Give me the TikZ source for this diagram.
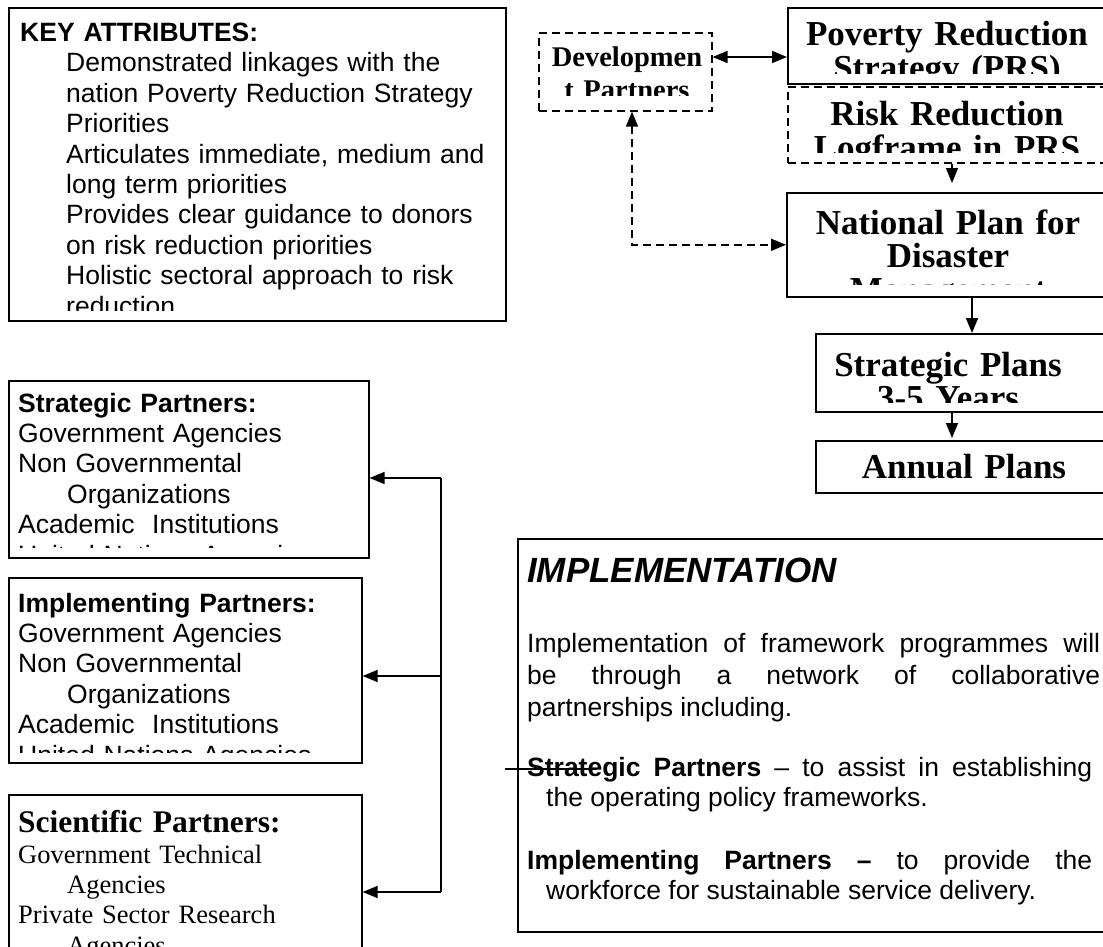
\documentclass[tikz,border=0pt]{standalone}
\usepackage{fontspec}
\setmainfont{Liberation Serif}
\setsansfont{Liberation Sans}
\usetikzlibrary{arrows.meta}
% text sizes (1pt = one unit of the drawing)
\newcommand\ArialBody{\sffamily\fontsize{26.5}{30.4}\selectfont}
\newcommand\LabelFont{\rmfamily\bfseries\fontsize{35}{33.5}\selectfont}
\newcommand\DevFont{\rmfamily\bfseries\fontsize{28.5}{33}\selectfont}
\newcommand\TimesBody{\rmfamily\fontsize{26.5}{30.4}\selectfont}
\newcommand\TimesHead{\rmfamily\bfseries\fontsize{31.5}{34}\selectfont}
\newcommand\JustPar{\tolerance=10000\hyphenpenalty=10000\exhyphenpenalty=10000
  \leftskip=0pt\rightskip=0pt\parfillskip=0pt plus 1fil\relax}
\begin{document}
\begin{tikzpicture}[x=1pt,y=-1pt,
  frame/.style={draw, line width=1.6pt, inner sep=0pt, anchor=north west},
  dframe/.style={frame, dash pattern=on 8pt off 5pt},
  txt/.style={inner sep=0pt, anchor=base west, align=left, text width=#1},
  txt/.default=560pt,
  jtxt/.style={inner sep=0pt, anchor=base west, align=justify, text width=#1},
  lab/.style={inner sep=0pt, anchor=base, align=center, text width=330pt, font=\LabelFont},
  tip/.style={-{Triangle[length=15pt,width=12pt]}},
  link/.style={line width=1.6pt, tip},
  dlink/.style={line width=1.6pt, dash pattern=on 8pt off 5pt,
    {Triangle[length=15pt,width=12pt]}-{Triangle[length=15pt,width=12pt]}},
]
\useasboundingbox (0,0) rectangle (1103,947);
\clip (0,0) rectangle (1103,947);
\fill[white] (0,0) rectangle (1103,947);

% ---------- key attributes ----------
\node[frame, minimum width=497pt, minimum height=313pt] (key) at (8,7) {};
\begin{scope}
  \clip (9,8) rectangle (504,310);
  \node[txt=480pt, font=\ArialBody] (keytext) at (20,41.5)
    {\textbf{KEY ATTRIBUTES:}\\
     \hspace*{46pt}Demonstrated linkages with the\\
     \hspace*{46pt}nation Poverty Reduction Strategy\\
     \hspace*{46pt}Priorities\\
     \hspace*{46pt}Articulates immediate, medium and\\
     \hspace*{46pt}long term priorities\\
     \hspace*{46pt}Provides clear guidance to donors\\
     \hspace*{46pt}on risk reduction priorities\\
     \hspace*{46pt}Holistic sectoral approach to risk\\
     \hspace*{46pt}reduction};
\end{scope}

% ---------- planning chain ----------
\node[dframe, minimum width=173pt, minimum height=78pt] (dev) at (538,32) {};
\node[frame, minimum width=330pt, minimum height=76pt] (prs) at (787,7) {};
\node[dframe, minimum width=330pt, minimum height=76pt] (risk) at (787,86) {};
\node[frame, minimum width=330pt, minimum height=104pt] (national) at (786,192) {};
\node[frame, minimum width=300pt, minimum height=78pt] (stratplan) at (815,333) {};
\node[frame, minimum width=300pt, minimum height=52pt] (annual) at (815,440) {};

\begin{scope}
  \clip (539,33) rectangle (710,96);
  \node[lab, font=\DevFont] (devtext) at (627,67) {Developmen\\t Partners};
\end{scope}
\begin{scope}
  \clip (788,8) rectangle (1103,74);
  \node[lab] (prstext) at (947,46) {Poverty Reduction\\Strategy (PRS)};
\end{scope}
\begin{scope}
  \clip (788,87) rectangle (1103,153);
  \node[lab] (risktext) at (947,126) {Risk Reduction\\Logframe in PRS};
\end{scope}
\begin{scope}
  \clip (787,193) rectangle (1103,284);
  \node[lab] (nationaltext) at (948,234) {National Plan for\\Disaster\\Management};
\end{scope}
\begin{scope}
  \clip (816,334) rectangle (1103,402);
  \node[lab] (stratplantext) at (948,376) {Strategic Plans\\3-5 Years};
\end{scope}
\node[lab] (annualtext) at (964,478) {Annual Plans};

\draw[line width=1.6pt, {Triangle[length=15pt,width=12pt]}-{Triangle[length=15pt,width=12pt]}]
  (dev.east |- 0,57) -- (prs.west |- 0,57);
\draw[link, shorten >=9pt] (952,0 |- risk.south) -- (952,0 |- national.north);
\draw[link] (972,0 |- national.south) -- (972,0 |- stratplan.north);
\draw[link, shorten >=2pt] (952,0 |- stratplan.south) -- (952,0 |- annual.north);
\draw[dlink] (632,0 |- dev.south) |- (national.west);

% ---------- partner boxes ----------
\node[frame, minimum width=360pt, minimum height=177pt] (strp) at (8,380) {};
\node[frame, minimum width=353pt, minimum height=185pt] (impp) at (8,577) {};
\node[frame, minimum width=353pt, minimum height=200pt] (scip) at (8,794) {};

\begin{scope}
  \clip (9,381) rectangle (367,547);
  \node[txt=340pt, font=\ArialBody] (strptext) at (18,412)
    {\textbf{Strategic Partners:}\\
     Government Agencies\\
     Non Governmental\\
     \hspace*{49pt}Organizations\\
     Academic\ \ Institutions\\
     United Nations Agencies};
\end{scope}
\begin{scope}
  \clip (9,578) rectangle (360,752);
  \node[txt=340pt, font=\ArialBody] (impptext) at (18,612)
    {\textbf{Implementing Partners:}\\
     Government Agencies\\
     Non Governmental\\
     \hspace*{49pt}Organizations\\
     Academic\ \ Institutions\\
     United Nations Agencies};
\end{scope}
\node[txt=340pt, font=\TimesHead] (sciphead) at (18,832) {Scientific Partners:};
\node[txt=340pt, font=\TimesBody] (sciptext) at (18,863)
  {Government Technical\\
   \hspace*{49pt}Agencies\\
   Private Sector Research\\
   \hspace*{49pt}Agencies};

\coordinate (busA) at (441,478);
\coordinate (busB) at (441,676);
\coordinate (busC) at (441,892);
\draw[line width=1.6pt] (busA) -- (busC);
\draw[link] (busA) -- (strp.east |- busA);
\draw[link] (busB) -- (impp.east |- busB);
\draw[link] (busC) -- (scip.east |- busC);

% ---------- implementation ----------
\node[frame, minimum width=600pt, minimum height=393pt] (impl) at (517,538) {};
\node[txt=580pt, font=\sffamily\bfseries\itshape\fontsize{35}{40}\selectfont] (impltitle)
  at (527,582) {IMPLEMENTATION};
\node[jtxt=573pt, font=\sffamily\fontsize{26.5}{32}\selectfont] (implp1) at (527,652)
  {\JustPar Implementation of framework programmes will\linebreak
   be through a network of collaborative\linebreak
   partnerships including.\par};
\node[jtxt=565pt, font=\ArialBody] (implp2) at (527,776)
  {\JustPar\hangindent=19pt\hangafter=1
   \textbf{Strategic Partners} -- to assist in establishing\linebreak
   the operating policy frameworks.\par};
\node[jtxt=565pt, font=\ArialBody] (implp3) at (527,869)
  {\JustPar\hangindent=19pt\hangafter=1
   \textbf{Implementing Partners --} to provide the\linebreak
   workforce for sustainable service delivery.\par};

\coordinate (strikeA) at (505,769);
\coordinate (strikeB) at (597,769);
\draw[line width=1.3pt] (strikeA) -- (strikeB);
\end{tikzpicture}
\end{document}
